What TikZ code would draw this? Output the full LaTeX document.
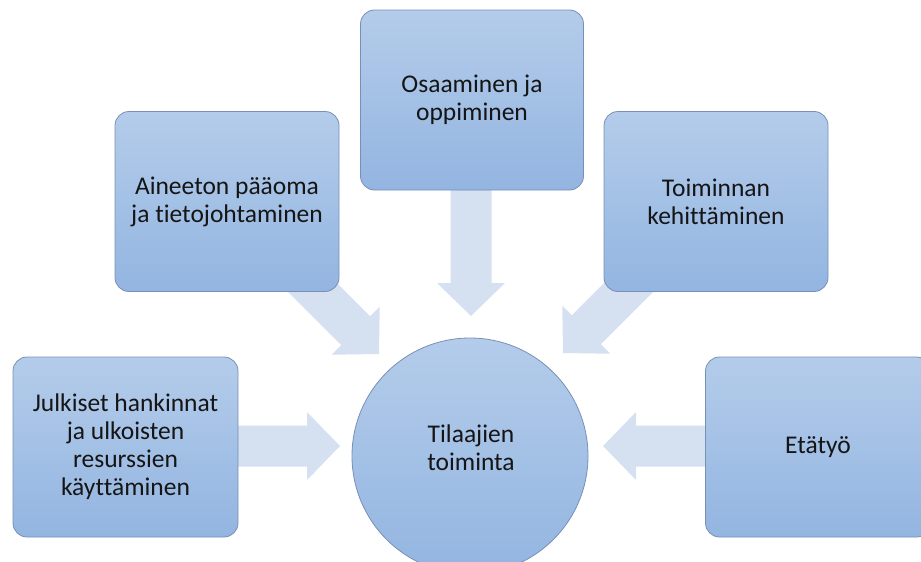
\documentclass[tikz,border=0pt]{standalone}
\usepackage{fontspec}
\setmainfont{Carlito}[Ligatures=NoCommon]
\usetikzlibrary{calc}

\definecolor{boxtop}{HTML}{B4CCEA}
\definecolor{boxbot}{HTML}{93B5E1}
\definecolor{boxline}{HTML}{7890B5}
\definecolor{flowfill}{HTML}{D5E1F1}
\definecolor{ink}{HTML}{151515}

\tikzset{
  lbl/.style={align=center, font=\fontsize{25.5}{28}\selectfont, text=ink},
  tile/.style={lbl, draw=boxline, line width=0.8pt, rounded corners=14pt,
    top color=boxtop, bottom color=boxbot, minimum width=224pt,
    minimum height=180pt, inner sep=0pt},
  disc/.style={circle, draw=boxline, line width=0.8pt, top color=boxtop,
    bottom color=boxbot, minimum size=236pt, inner sep=0pt},
  flow/.style={fill=flowfill, draw=none}
}

% block arrow from #1 (tail) to #2 (tip): shaft half-width 20.5, head half-width 34, head length 33
\newcommand{\blockarrow}[2]{%
  \path ($(#2)!33pt!(#1)$) coordinate (hb);
  \fill[flow] ($(#1)!20.5pt!90:(#2)$) -- ($(hb)!20.5pt!-90:(#1)$)
    -- ($(hb)!34pt!-90:(#1)$) -- (#2) -- ($(hb)!34pt!90:(#1)$)
    -- ($(hb)!20.5pt!90:(#1)$) -- ($(#1)!20.5pt!-90:(#2)$) -- cycle;}

\begin{document}
\begin{tikzpicture}[x=1pt, y=-1pt]
  \path[use as bounding box, clip] (0,0) rectangle (921,562);

  % arrow ends
  \coordinate (tTop) at (471,185);  \coordinate (hTop) at (471,316);
  \coordinate (tUL)  at (290,265);  \coordinate (hUL)  at (379,354);
  \coordinate (tUR)  at (652,264);  \coordinate (hUR)  at (563,353);
  \coordinate (tL)   at (230,446);  \coordinate (hL)   at (340,446);
  \coordinate (tR)   at (712,446);  \coordinate (hR)   at (603,446);

  \blockarrow{tTop}{hTop}
  \blockarrow{tUL}{hUL}
  \blockarrow{tUR}{hUR}
  \blockarrow{tL}{hL}
  \blockarrow{tR}{hR}

  % satellite boxes
  \node[tile, minimum width=223pt] (osaaminen) at (472,100) {Osaaminen ja\\oppiminen};
  \node[tile] (aineeton) at (227,201.5) {Aineeton pääoma\\ja tietojohtaminen};
  \node[tile] (toiminnan) at (716,201.5) {Toiminnan\\kehittäminen};
  \node[tile, minimum width=225pt] (julkiset) at (125.5,447) {Julkiset hankinnat\\ja ulkoisten\\resurssien\\käyttäminen};
  \node[tile, minimum width=225pt] (etatyo) at (818,447) {Etätyö};

  % centre
  \node[disc] (tilaajat) at (470,456) {};
  \node[lbl] (tilaajatText) at (471,448) {Tilaajien\\toiminta};
\end{tikzpicture}
\end{document}
